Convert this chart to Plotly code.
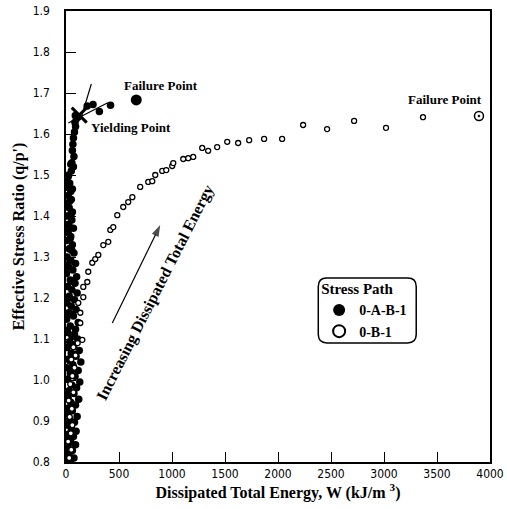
import plotly.graph_objects as go

# Stress path 0-A-B-1 (solid symbols): dissipated energy W (kJ/m^3) vs q/p'
path_a_w = [40, 15, 75, 30, 5, 60, 20, 90, 45, 10,
            70, 25, 95, 50, 15, 80, 35, 105, 5, 60,
            25, 90, 45, 120, 10, 75, 30, 100, 55, 130,
            15, 85, 40, 115, 5, 65, 140, 25, 95, 50,
            125, 10, 75, 35, 110, 55, 15, 90, 40, 115,
            5, 70, 25, 95, 50, 10, 80, 30, 105, 55,
            15, 85, 40, 100, 5, 65, 25, 90, 45, 10,
            75, 30, 60, 5, 45, 20, 70, 25, 55, 10,
            60, 30, 5, 50, 20, 45, 10, 35, 5, 25,
            50, 70, 55, 75, 60, 65, 70, 80, 90, 85,
            100, 88, 200, 255, 315, 420,
            20, 50, 35, 65, 10, 45, 80, 30, 60, 15,
            55, 85, 40, 70, 25, 50, 35, 60, 20, 45]
path_a_q = [0.800, 0.805, 0.810, 0.815, 0.822, 0.828, 0.835, 0.842, 0.848, 0.855,
            0.862, 0.868, 0.875, 0.882, 0.890, 0.897, 0.904, 0.911, 0.918, 0.925,
            0.932, 0.939, 0.946, 0.953, 0.960, 0.967, 0.974, 0.981, 0.988, 0.995,
            1.002, 1.009, 1.016, 1.023, 1.030, 1.037, 1.044, 1.051, 1.058, 1.065,
            1.072, 1.079, 1.086, 1.093, 1.100, 1.108, 1.116, 1.124, 1.132, 1.140,
            1.148, 1.156, 1.164, 1.172, 1.180, 1.188, 1.196, 1.204, 1.212, 1.220,
            1.228, 1.236, 1.244, 1.252, 1.260, 1.268, 1.276, 1.284, 1.292, 1.300,
            1.310, 1.320, 1.330, 1.340, 1.350, 1.360, 1.370, 1.380, 1.390, 1.400,
            1.410, 1.420, 1.430, 1.440, 1.450, 1.460, 1.470, 1.480, 1.490, 1.500,
            1.510, 1.520, 1.530, 1.545, 1.560, 1.575, 1.590, 1.605, 1.618, 1.628,
            1.638, 1.645, 1.668, 1.672, 1.655, 1.670,
            0.958, 1.012, 1.047, 1.083, 1.121, 1.161, 1.112, 1.201, 1.241, 1.281,
            1.316, 1.062, 1.346, 1.027, 1.376, 1.406, 1.436, 1.466, 1.496, 1.526]

# Stress path 0-B-1 (open symbols)
path_b_w = [30, 50, 20, 45, 60, 35, 55, 25, 70, 40, 60, 80, 50, 90, 70, 110,
            154, 135, 135, 116, 163, 163, 201, 210, 248, 276, 305, 352, 399, 418,
            446, 484, 540, 587, 626, 700, 776, 814, 842, 908, 946, 1002, 1012,
            1106, 1153, 1200, 1285, 1341, 1426, 1521, 1624, 1728, 1869, 2039,
            2237, 2463, 2718, 3019, 3368]
path_b_q = [0.81, 0.83, 0.85, 0.87, 0.89, 0.91, 0.93, 0.95, 0.97, 0.99, 1.01, 1.03,
            1.05, 1.06, 1.08, 1.09,
            1.098, 1.139, 1.164, 1.188, 1.202, 1.227, 1.239, 1.264, 1.286, 1.295,
            1.305, 1.329, 1.337, 1.366, 1.373, 1.402, 1.422, 1.434, 1.446, 1.471,
            1.483, 1.485, 1.500, 1.510, 1.512, 1.522, 1.529, 1.539, 1.541, 1.544,
            1.566, 1.559, 1.568, 1.581, 1.578, 1.585, 1.588, 1.588, 1.622, 1.612,
            1.632, 1.615, 1.641]

# Failure and yielding states
fail_a = (663, 1.683)
fail_b = (3896, 1.644)
yield_pt = (125, 1.646)

# Tangent lines bracketing the yielding point
tangent_steep_w = [136, 239]
tangent_steep_q = [1.634, 1.722]
tangent_flat_w = [22, 394]
tangent_flat_q = [1.627, 1.676]

# Trend arrow (tail -> head)
trend_w = [437, 889]
trend_q = [1.139, 1.378]

x_ticks = [0, 500, 1000, 1500, 2000, 2500, 3000, 3500, 4000]
y_ticks = [0.8, 0.9, 1.0, 1.1, 1.2, 1.3, 1.4, 1.5, 1.6, 1.7, 1.8, 1.9]

SERIF = "Liberation Serif, Times New Roman, serif"
NARROW = "Liberation Sans Narrow, Arial Narrow, DejaVu Sans Condensed, sans-serif"

fig = go.Figure()

fig.add_trace(go.Scatter(
    x=path_a_w, y=path_a_q, mode="markers", name="<b>0-A-B-1</b>",
    marker=dict(symbol="circle", size=7.5, color="black", line=dict(width=0)),
))
fig.add_trace(go.Scatter(
    x=path_b_w, y=path_b_q, mode="markers", name="<b>0-B-1</b>",
    marker=dict(symbol="circle", size=5, color="white", line=dict(width=1.3, color="black")),
))
fig.add_trace(go.Scatter(
    x=[fail_a[0]], y=[fail_a[1]], mode="markers", showlegend=False,
    marker=dict(symbol="circle", size=11, color="black"),
))
fig.add_trace(go.Scatter(
    x=[fail_b[0]], y=[fail_b[1]], mode="markers", showlegend=False,
    marker=dict(symbol="circle-open-dot", size=9, color="black", line=dict(width=1.5)),
))
fig.add_trace(go.Scatter(
    x=tangent_steep_w, y=tangent_steep_q, mode="lines", showlegend=False,
    line=dict(color="black", width=1.2),
))
fig.add_trace(go.Scatter(
    x=tangent_flat_w, y=tangent_flat_q, mode="lines", showlegend=False,
    line=dict(color="black", width=1.2),
))
fig.add_trace(go.Scatter(
    x=[yield_pt[0]], y=[yield_pt[1]], mode="markers", showlegend=False,
    marker=dict(symbol="x-thin", size=15, color="black", line=dict(width=3, color="black")),
))
# Trend arrow: a line whose end point carries an arrowhead oriented along the segment
fig.add_trace(go.Scatter(
    x=trend_w, y=trend_q, mode="lines+markers", showlegend=False,
    line=dict(color="black", width=1.2),
    marker=dict(symbol=["circle", "arrow"], size=[0, 12], color="black",
                angleref="previous", line=dict(width=0)),
))

label_font = dict(family=SERIF, size=13, color="black")
fig.add_annotation(x=900, y=1.719, text="<b>Failure Point</b>", showarrow=False, font=label_font)
fig.add_annotation(x=617, y=1.615, text="<b>Yielding Point</b>", showarrow=False, font=label_font)
fig.add_annotation(x=3571, y=1.683, text="<b>Failure Point</b>", showarrow=False, font=label_font)

fig.add_annotation(
    x=841, y=1.212, text="<b>Increasing Dissipated Total Energy</b>", showarrow=False,
    textangle=-63, font=dict(family=SERIF, size=16, color="black"),
)

# Rounded frame around the legend (paper coordinates)
x0, x1, y0, y1 = 0.595, 0.826, 0.264, 0.408
rx, ry = 0.02, 0.019
legend_frame = (
    f"M {x0+rx},{y0} L {x1-rx},{y0} Q {x1},{y0} {x1},{y0+ry} "
    f"L {x1},{y1-ry} Q {x1},{y1} {x1-rx},{y1} "
    f"L {x0+rx},{y1} Q {x0},{y1} {x0},{y1-ry} "
    f"L {x0},{y0+ry} Q {x0},{y0} {x0+rx},{y0} Z"
)
fig.add_shape(type="path", path=legend_frame, xref="paper", yref="paper",
              line=dict(color="black", width=1.5))

axis_common = dict(
    showgrid=False, zeroline=False, showline=True, linecolor="black", linewidth=1.5,
    mirror=True, ticks="inside", ticklen=10, tickwidth=1.3, tickcolor="black",
    tickfont=dict(family=NARROW, size=12, color="black"), layer="below traces",
    automargin=False,
)

fig.update_layout(
    width=507, height=509,
    margin=dict(l=66, r=17, t=11, b=47),
    paper_bgcolor="white", plot_bgcolor="white",
    xaxis=dict(range=[0, 4000], tickvals=x_ticks, **axis_common,
               title=dict(text="<b>Dissipated Total Energy, W (kJ/m <sup>3</sup>)</b>",
                          font=dict(family=SERIF, size=16, color="black"), standoff=4)),
    yaxis=dict(range=[0.8, 1.9], tickvals=y_ticks, tickformat=".1f", **axis_common,
               ticklabelstandoff=12,
               title=dict(text="<b>Effective Stress Ratio (q/p')</b>",
                          font=dict(family=SERIF, size=16, color="black"), standoff=4)),
    legend=dict(
        x=0.597, y=0.415, xanchor="left", yanchor="top",
        bgcolor="rgba(0,0,0,0)", borderwidth=0, itemsizing="constant",
        title=dict(text="<b>Stress Path</b>", font=dict(family=SERIF, size=15, color="black")),
        font=dict(family=SERIF, size=14, color="black"),
        tracegroupgap=0, itemwidth=30,
    ),
    showlegend=True,
)

fig.write_html("out.html")
